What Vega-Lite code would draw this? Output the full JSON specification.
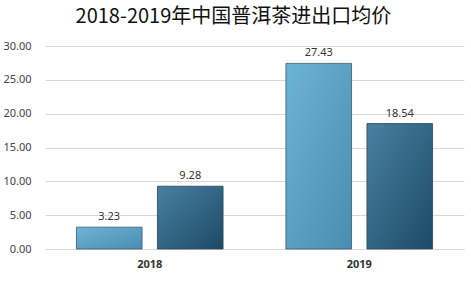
{
  "$schema": "https://vega.github.io/schema/vega-lite/v6.json",
  "width": 471,
  "height": 283,
  "autosize": {"type": "fit", "contains": "padding"},
  "padding": {"left": 2, "top": 7, "right": 7, "bottom": 14},
  "background": "white",
  "title": {
    "text": "2018-2019年中国普洱茶进出口均价",
    "font": "Noto Sans CJK SC",
    "fontSize": 20,
    "fontWeight": "normal",
    "color": "#111111",
    "anchor": "middle",
    "frame": "bounds",
    "offset": 13
  },
  "data": {
    "values": [
      {"year": "2018", "series": "A", "value": 3.23},
      {"year": "2018", "series": "B", "value": 9.28},
      {"year": "2019", "series": "A", "value": 27.43},
      {"year": "2019", "series": "B", "value": 18.54}
    ]
  },
  "encoding": {
    "x": {
      "field": "year",
      "type": "nominal",
      "scale": {"paddingInner": 0.3, "paddingOuter": 0.15},
      "axis": {
        "title": null,
        "labelAngle": 0,
        "labelFont": "Noto Sans",
        "labelFontSize": 11,
        "labelFontWeight": "bold",
        "labelColor": "#333333",
        "labelPadding": 9,
        "ticks": false,
        "domainColor": "#d9d9d9"
      }
    },
    "xOffset": {
      "field": "series",
      "type": "nominal",
      "scale": {"paddingInner": 0.19, "paddingOuter": 0}
    },
    "y": {
      "field": "value",
      "type": "quantitative",
      "scale": {"domain": [0, 30], "nice": false},
      "axis": {
        "title": null,
        "values": [0, 5, 10, 15, 20, 25, 30],
        "format": ".2f",
        "labelFont": "Noto Sans",
        "labelFontSize": 11,
        "labelColor": "#444444",
        "labelPadding": 14,
        "ticks": false,
        "domain": false,
        "gridColor": "#d9d9d9"
      }
    }
  },
  "layer": [
    {
      "transform": [{"filter": "datum.series === 'A'"}],
      "mark": {
        "type": "bar",
        "stroke": "#3d5666",
        "strokeWidth": 0.8,
        "color": {
          "gradient": "linear",
          "x1": 0, "y1": 0, "x2": 1, "y2": 1,
          "stops": [
            {"offset": 0, "color": "#6cb4d6"},
            {"offset": 1, "color": "#4a8db2"}
          ]
        }
      }
    },
    {
      "transform": [{"filter": "datum.series === 'B'"}],
      "mark": {
        "type": "bar",
        "stroke": "#2e4655",
        "strokeWidth": 0.8,
        "color": {
          "gradient": "linear",
          "x1": 0, "y1": 0, "x2": 1, "y2": 1,
          "stops": [
            {"offset": 0, "color": "#4a80a2"},
            {"offset": 1, "color": "#1c4a66"}
          ]
        }
      }
    },
    {
      "mark": {
        "type": "text",
        "dy": -10,
        "font": "Noto Sans",
        "fontSize": 11,
        "color": "#333333"
      },
      "encoding": {
        "text": {"field": "value", "type": "quantitative", "format": ".2f"}
      }
    }
  ],
  "config": {"view": {"stroke": null}, "legend": {"disable": true}}
}
